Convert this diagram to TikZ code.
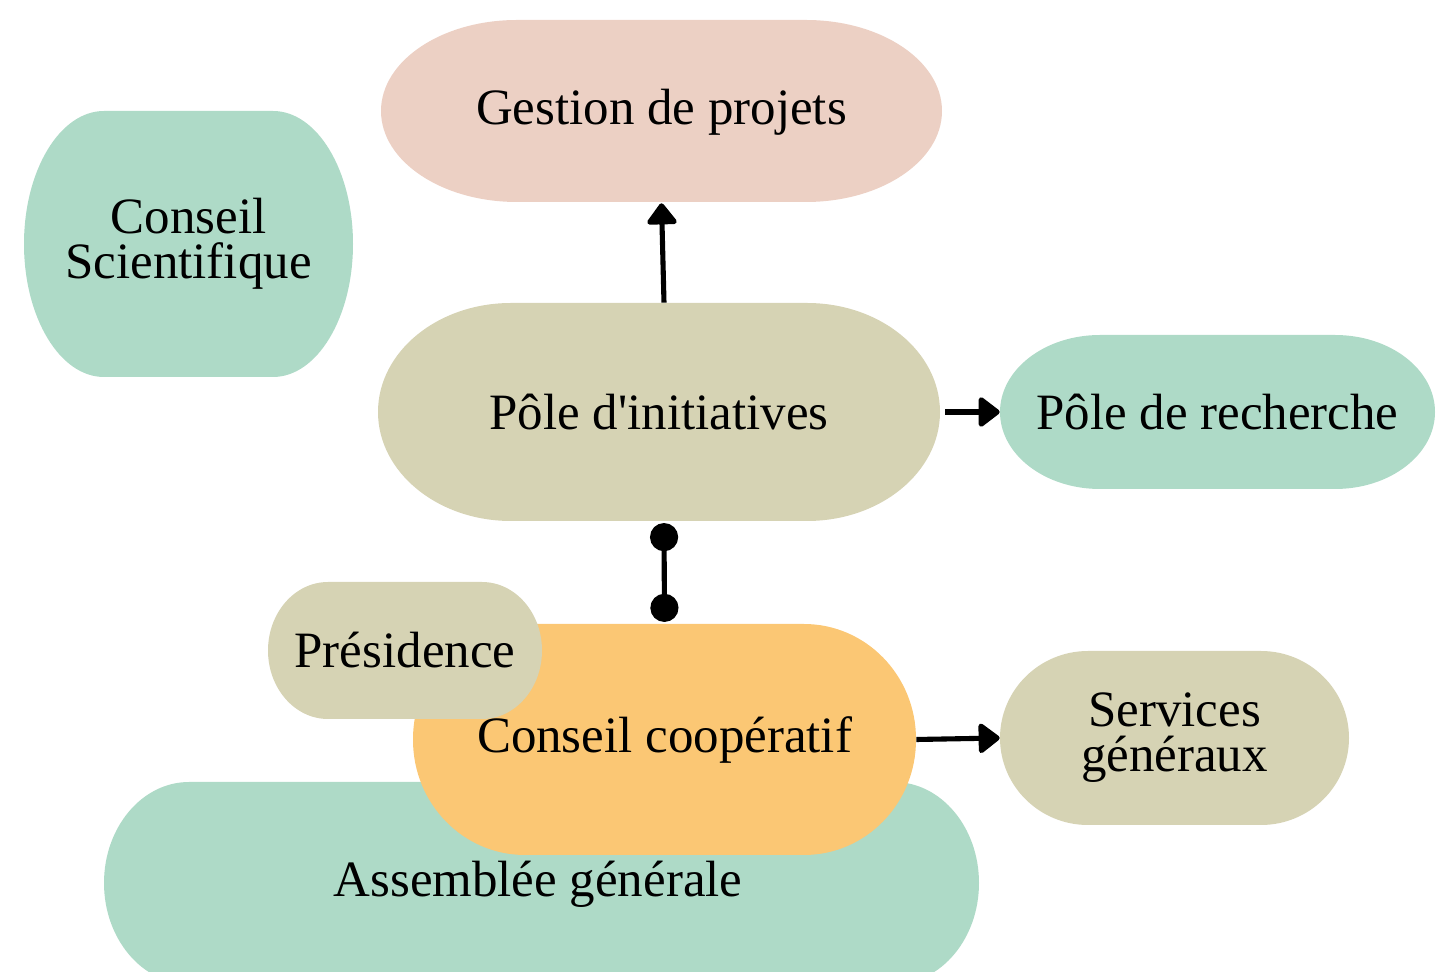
\documentclass[tikz,border=0pt]{standalone}
\usepackage{fontspec}
\setmainfont{Liberation Serif}
\usetikzlibrary{arrows.meta}
\definecolor{rose}{HTML}{ECD0C4}
\definecolor{menthe}{HTML}{AEDAC7}
\definecolor{kaki}{HTML}{D6D3B4}
\definecolor{abricot}{HTML}{FBC774}
\newcommand{\pill}[7]{\fill[#1] (#2+#6,#3) -- (#4-#6,#3) arc[start angle=-90,end angle=0,x radius=#6,y radius=#7] -- (#4,#5-#7) arc[start angle=0,end angle=90,x radius=#6,y radius=#7] -- (#2+#6,#5) arc[start angle=90,end angle=180,x radius=#6,y radius=#7] -- (#2,#3+#7) arc[start angle=180,end angle=270,x radius=#6,y radius=#7] -- cycle;}

\begin{document}
\begin{tikzpicture}[x=0.02cm,y=-0.02cm,
		etiq/.style={inner sep=0pt, align=center, font=\fontsize{29}{25.5}\selectfont},
		fleche/.style={line width=2.9pt, -{Triangle[length=13pt,width=19pt,round]}},
		lien/.style={line width=2.9pt, {Circle[length=16pt]}-{Circle[length=16pt]}}]
			\useasboundingbox (0,0) rectangle (1441,972);
			\pill{rose}{381}{20}{942}{202}{136}{91}
			\node[etiq, minimum width=11.22cm, minimum height=3.64cm] (gestion) at (661.5,112) {Gestion de projets};
			\pill{menthe}{24}{111}{353}{377}{80}{133}
			\node[etiq, minimum width=6.58cm, minimum height=5.32cm] (scient) at (188.5,244) {Conseil\\Scientifique};
			\pill{kaki}{378}{303}{940}{521}{133}{109}
			\node[etiq, minimum width=11.24cm, minimum height=4.36cm] (init) at (659,412) {Pôle d\textquotesingle initiatives};
			\pill{menthe}{1000}{335}{1435}{489}{100}{77}
			\node[etiq, minimum width=8.7cm, minimum height=3.08cm] (recherche) at (1217.5,412) {Pôle de recherche};
			\pill{kaki}{1000}{651}{1349}{825}{88}{87}
			\node[etiq, minimum width=6.98cm, minimum height=3.48cm] (services) at (1174.5,738) {Services\\généraux};
			\pill{menthe}{104}{782}{979}{984}{85}{101}
			\node[etiq, minimum width=17.5cm, minimum height=4.04cm] (assemblee) at (538,884) {Assemblée générale};
			\pill{abricot}{413}{624}{916}{855}{112}{115}
			\node[etiq, minimum width=10.06cm, minimum height=4.62cm] (coop) at (664.5,739.5) {Conseil coopératif};
			\pill{kaki}{268}{582}{542}{719}{60}{68.5}
			\node[etiq, minimum width=5.48cm, minimum height=2.74cm] (presidence) at (405,650.5) {Présidence};
			\draw[fleche] ([xshift=0.1cm]init.north) -- (gestion.south);
			\draw[fleche, shorten <=0.1cm] (init.east) -- (recherche.west);
			\draw[fleche] (coop.east) -- (services.west);
			\draw[lien, shorten <=1pt, shorten >=1pt] ([xshift=0.1cm]init.south) -- (coop.north);
		\end{tikzpicture}
\end{document}
